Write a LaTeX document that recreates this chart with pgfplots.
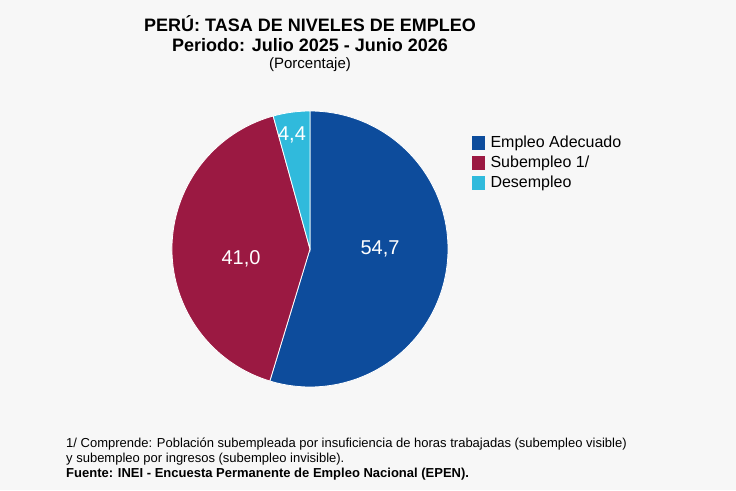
\documentclass[border=0pt]{standalone}
\usepackage{pgfplots}
\pgfplotsset{compat=1.18}
\usepackage{fontspec}
\setmainfont{Liberation Sans}
\definecolor{bg}{HTML}{F7F7F7}
\definecolor{cA}{HTML}{0D4C9C}
\definecolor{cB}{HTML}{9B1942}
\definecolor{cC}{HTML}{30BADC}
\begin{document}
\begin{tikzpicture}
\def\vA{54.7}\def\vB{41.0}\def\vC{4.4}
\pgfmathsetmacro\aA{90-3.6*\vA}
\pgfmathsetmacro\aB{\aA-3.6*\vB}
\begin{axis}[scale only axis, width=736pt, height=490pt, xmin=0, xmax=736, ymin=0, ymax=490,
  axis lines=none, clip=false]
\fill[bg] (axis cs:0,0) rectangle (axis cs:736,490);
\def\cx{310}\def\cy{241}
\fill[cA, draw=white, line width=0.8pt] (axis cs:\cx,\cy) -- ++(90:138pt) arc[start angle=90, end angle=\aA, radius=138pt] -- cycle;
\fill[cB, draw=white, line width=0.8pt] (axis cs:\cx,\cy) -- ++(\aA:138pt) arc[start angle=\aA, end angle=\aB, radius=138pt] -- cycle;
\fill[cC, draw=white, line width=0.8pt] (axis cs:\cx,\cy) -- ++(\aB:138pt) arc[start angle=\aB, end angle=-270, radius=138pt] -- cycle;
\node[white, font=\fontsize{20}{24}\selectfont] at (axis cs:380,241) {54,7};
\node[white, font=\fontsize{20}{24}\selectfont] at (axis cs:241,231) {41,0};
\node[white, font=\fontsize{20}{24}\selectfont] at (axis cs:292,355) {4,4};
\node[font=\bfseries\fontsize{18}{20}\selectfont, align=center] at (axis cs:310,456) {PERÚ: TASA DE NIVELES DE EMPLEO\\Periodo: Julio 2025 - Junio 2026};
\node[font=\fontsize{15}{18}\selectfont] at (axis cs:310,425) {(Porcentaje)};
\fill[cA] (axis cs:472,340) rectangle (axis cs:485,354);
\node[anchor=west, font=\fontsize{16}{18}\selectfont] at (axis cs:487,347) {Empleo Adecuado};
\fill[cB] (axis cs:472,320) rectangle (axis cs:485,334);
\node[anchor=west, font=\fontsize{16}{18}\selectfont] at (axis cs:487,327) {Subempleo 1/};
\fill[cC] (axis cs:472,300) rectangle (axis cs:485,314);
\node[anchor=west, font=\fontsize{16}{18}\selectfont] at (axis cs:487,307) {Desempleo};
\node[anchor=north west, align=left, font=\fontsize{13}{15}\selectfont, inner sep=0] at (axis cs:66,52) {1/ Comprende: Población subempleada por insuficiencia de horas trabajadas (subempleo visible)\\y subempleo por ingresos (subempleo invisible).\\\textbf{Fuente: INEI - Encuesta Permanente de Empleo Nacional (EPEN).}};
\end{axis}
\end{tikzpicture}
\end{document}
